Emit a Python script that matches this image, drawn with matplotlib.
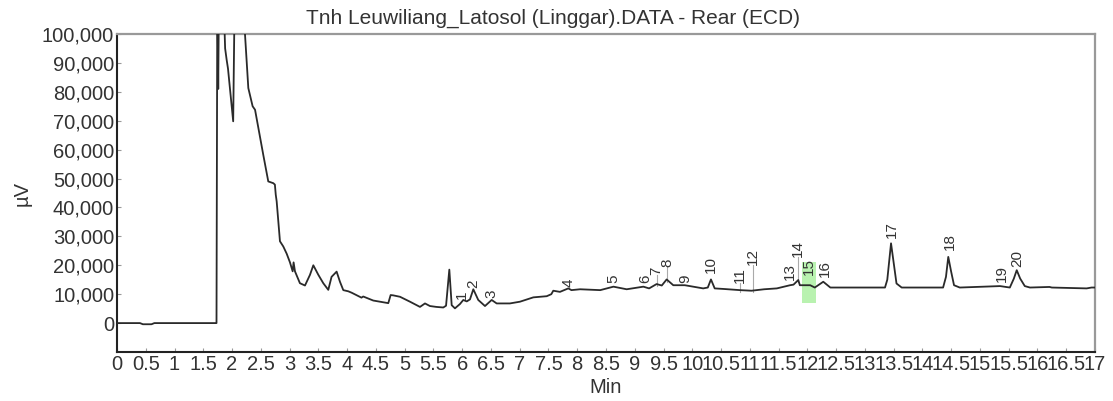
import numpy as np
import matplotlib
matplotlib.use("Agg")
import matplotlib.pyplot as plt
from matplotlib.patches import Rectangle

plt.rcParams['font.family'] = ['Liberation Sans', 'DejaVu Sans']

# ---- data ----
trace_t = [0, 0.40, 0.45, 0.60, 0.65, 1.72, 1.73, 1.745, 1.76, 1.775, 1.84, 1.88, 1.907, 1.93,
           1.97, 2.02, 2.05, 2.20, 2.225, 2.283, 2.358, 2.40, 2.457, 2.543, 2.63, 2.717, 2.745,
           2.76, 2.776, 2.833, 2.891, 2.95, 3.007, 3.054, 3.07, 3.094, 3.18, 3.268, 3.355, 3.413,
           3.50, 3.586, 3.673, 3.73, 3.818, 3.876, 3.934, 4.02, 4.08, 4.25, 4.28, 4.455, 4.60,
           4.716, 4.757, 4.80, 4.92, 5.093, 5.267, 5.354, 5.44, 5.55, 5.672, 5.72, 5.777, 5.818,
           5.875, 5.962, 6.02, 6.08, 6.136, 6.194, 6.28, 6.397, 6.513, 6.60, 6.83, 7.005, 7.237,
           7.47, 7.55, 7.584, 7.70, 7.845, 7.90, 8.05, 8.40, 8.63, 8.86, 9.15, 9.25, 9.38, 9.47,
           9.555, 9.67, 9.87, 10.19, 10.27, 10.325, 10.39, 10.55, 10.83, 11.03, 11.25, 11.47,
           11.70, 11.76, 11.843, 11.87, 12.05, 12.13, 12.277, 12.4, 12.857, 13.35, 13.39, 13.455,
           13.506, 13.55, 13.64, 14.36, 14.41, 14.45, 14.50, 14.55, 14.65, 15.35, 15.52, 15.59,
           15.64, 15.70, 15.78, 15.87, 16.21, 16.25, 16.855, 16.94, 17.0]
trace_uv = [0, 0, -400, -400, 0, 0, 0, 120000, 81000, 120000, 120000, 95000, 91000, 88000,
            80000, 69800, 120000, 120000, 100000, 81300, 75000, 73800, 67500, 58200, 49000, 48400, 47900,
            44400, 42100, 28300, 26500, 24000, 21000, 17900, 21000, 17900, 13800, 13000, 16700, 20000,
            16700, 13800, 11500, 16000, 17800, 14300, 11400, 11000, 10500, 8800, 9200, 7800, 7300,
            6900, 9700, 9600, 9100, 7400, 5600, 6800, 5900, 5600, 5400, 6000, 18500, 6200,
            5100, 6600, 8000, 7500, 8200, 11700, 8000, 5900, 8000, 6800, 6800, 7400, 8900,
            9300, 10000, 11200, 10800, 12000, 11400, 11700, 11400, 12600, 11700, 12600, 12000, 13500, 13000,
            15100, 13100, 13100, 12000, 12300, 15100, 12000, 11800, 11400, 11200, 11700, 12000,
            13100, 13300, 14900, 13100, 13100, 12300, 14300, 12300, 12300, 12300, 15000, 27600,
            20000, 13700, 12300, 12300, 16000, 22900, 17800, 13100, 12300, 12800, 12300, 15400,
            18300, 15400, 12800, 12300, 12500, 12300, 12000, 12300, 12300]

peak_ids = ['1', '2', '3', '4', '5', '6', '7', '8', '9', '10',
            '11', '12', '13', '14', '15', '16', '17', '18', '19', '20']
label_t = [6.00, 6.19, 6.51, 7.845, 8.63, 9.18, 9.38, 9.565, 9.87, 10.325,
           10.83, 11.06, 11.69, 11.84, 12.03, 12.31, 13.465, 14.47, 15.39, 15.65]
label_uv = [8400, 12000, 8600, 12600, 13700, 13700, 16600, 19500, 13700, 17200,
            13700, 20100, 14900, 22900, 16600, 16000, 29300, 25300, 14300, 19500]
leader_ids = ['7', '8', '11', '12', '14']
highlight_t = (11.90, 12.15)
highlight_uv = (6800, 21200)

y_ticks = list(range(0, 100001, 10000))
x_ticks = [i * 0.5 for i in range(0, 35)]

# ---- figure ----
fig = plt.figure(figsize=(11.13, 4.01), dpi=100)
ax = fig.add_axes([0.1051, 0.1222, 0.8787, 0.7930])

ax.add_patch(Rectangle((highlight_t[0], highlight_uv[0]), highlight_t[1] - highlight_t[0],
                       highlight_uv[1] - highlight_uv[0], facecolor='#b9f2b0',
                       edgecolor='none', zorder=1))

ax.plot(trace_t, trace_uv, color='#2a2a2a', lw=1.3, zorder=3)

tt = np.array(trace_t)
yy = np.array(trace_uv)
for pid, t, y in zip(peak_ids, label_t, label_uv):
    ax.text(t, y, pid, rotation=90, ha='center', va='bottom', fontsize=11,
            color='#333333', zorder=4)
    if pid in leader_ids:
        base = np.interp(t, tt, yy) - 600
        ax.plot([t, t], [base, y], color='#aaaaaa', lw=0.8, zorder=2)

ax.set_xlim(0, 17)
ax.set_ylim(-10000, 100000)
ax.set_yticks(y_ticks)
ax.set_yticklabels([f"{v:,}" for v in y_ticks])
ax.set_xticks(x_ticks)
ax.set_xticklabels([f"{v:g}" for v in x_ticks])
ax.tick_params(axis='both', direction='in', length=3, color='#999999', labelsize=14.5,
               labelcolor='#333333', pad=2)

for s in ['left', 'bottom']:
    ax.spines[s].set_color('#222222')
    ax.spines[s].set_linewidth(1.5)
for s in ['top', 'right']:
    ax.spines[s].set_color('#999999')
    ax.spines[s].set_linewidth(1.6)

ax.set_xlabel('Min', fontsize=14.5, color='#333333')
ax.xaxis.label.set_va('center')
ax.xaxis.set_label_coords(0.5, -0.113)
ax.set_ylabel('µV', fontsize=14.5, color='#333333')
ax.yaxis.label.set_va('center')
ax.yaxis.set_label_coords(-0.097, 0.5)
fig.text(0.497, 0.953, 'Tnh Leuwiliang_Latosol (Linggar).DATA - Rear (ECD)',
         ha='center', va='center', fontsize=15, color='#333333')

fig.savefig('out.png', dpi=100)
